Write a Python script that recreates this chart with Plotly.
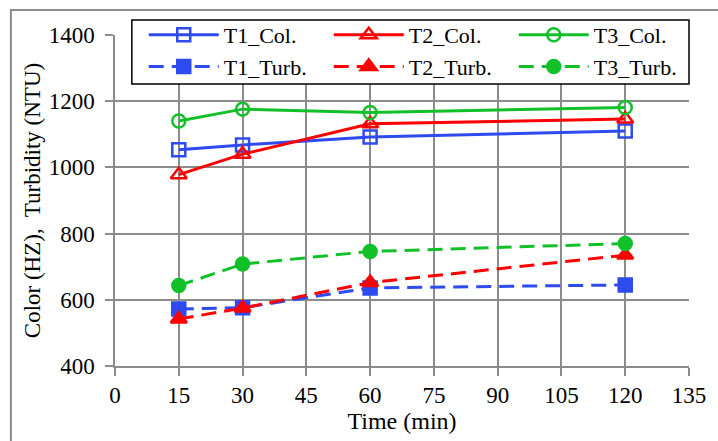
import plotly.graph_objects as go

time_min = [15, 30, 60, 120]
t1_col = [1053, 1068, 1092, 1110]
t2_col = [978, 1040, 1132, 1146]
t3_col = [1140, 1176, 1166, 1181]
t1_turb = [572, 576, 636, 645]
t2_turb = [542, 575, 652, 735]
t3_turb = [643, 708, 746, 770]

BLUE = "#2E4BF0"
RED = "#FF0000"
GREEN = "#12C02A"
FONT = "Liberation Serif"

series = [
    ("T1_Col.", t1_col, BLUE, "solid", "square-open", 13),
    ("T2_Col.", t2_col, RED, "solid", "triangle-up-open", 14),
    ("T3_Col.", t3_col, GREEN, "solid", "circle-open", 13),
    ("T1_Turb.", t1_turb, BLUE, "15px,8px", "square", 13),
    ("T2_Turb.", t2_turb, RED, "15px,8px", "triangle-up", 14),
    ("T3_Turb.", t3_turb, GREEN, "15px,8px", "circle", 13),
]

fig = go.Figure()
for name, vals, col, dash, sym, msize in series:
    fig.add_trace(go.Scatter(
        x=time_min, y=vals, name=name, mode="lines+markers",
        line=dict(color=col, width=3, dash=dash),
        marker=dict(symbol=sym, size=msize, color=col,
                    line=dict(color=col, width=2.5)),
    ))

axis_common = dict(
    showgrid=True, gridcolor="#8C8C8C", gridwidth=1.5,
    showline=True, linecolor="#8C8C8C", linewidth=1.5,
    ticks="outside", tickcolor="#8C8C8C", ticklen=8, tickwidth=1.5,
    zeroline=False, mirror=False,
    tickfont=dict(family=FONT, size=23, color="black"),
)

PW = 718 - 115 - 24
PH = 441 - 35 - 75

fig.update_layout(
    width=718, height=441,
    margin=dict(l=115, r=24, t=35, b=75),
    paper_bgcolor="white", plot_bgcolor="white",
    font=dict(family=FONT, color="black"),
    xaxis=dict(range=[0, 135], tickmode="linear", tick0=0, dtick=15,
               title=dict(text="Time (min)", font=dict(family=FONT, size=24), standoff=2),
               **axis_common),
    yaxis=dict(range=[400, 1400], tickmode="linear", tick0=400, dtick=200,
               title=dict(text="Color (HZ),  Turbidity (NTU)", font=dict(family=FONT, size=23), standoff=2),
               ticklabelstandoff=6,
               **axis_common),
    legend=dict(
        orientation="h", x=(144 - 115) / PW, xanchor="left", y=1 + 21 / PH, yanchor="top",
        bgcolor="rgba(0,0,0,0)", borderwidth=0,
        font=dict(family=FONT, size=22, color="black"),
        entrywidth=100, entrywidthmode="pixels",
        itemwidth=70, tracegroupgap=0,
    ),
    shapes=[
        dict(type="rect", xref="paper", yref="paper",
             x0=(10 - 115) / PW, x1=1.1, y0=-0.3, y1=1 + 25 / PH,
             line=dict(color="#8C8C8C", width=2), layer="below"),
        dict(type="rect", xref="paper", yref="paper",
             x0=(132 - 115) / PW, x1=1.0, y0=1 - 49 / PH, y1=1 + 15 / PH,
             line=dict(color="black", width=1.5), fillcolor="white", layer="above"),
    ],
)

fig.write_html("out.html")
